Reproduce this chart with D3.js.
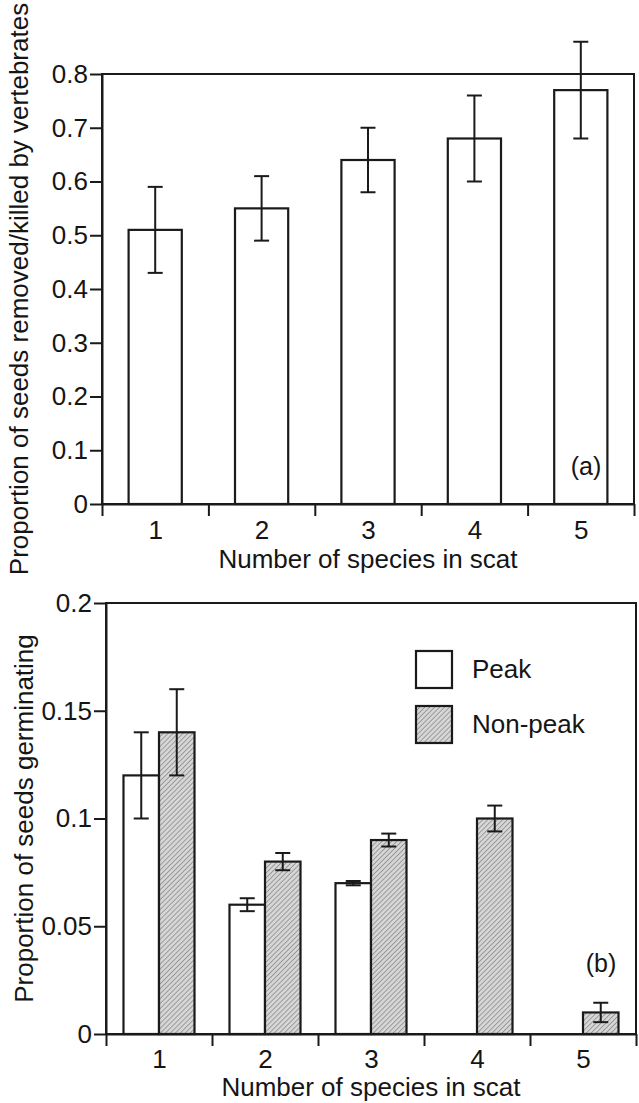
<!DOCTYPE html>
<html>
<head>
<meta charset="utf-8">
<script src="https://cdn.jsdelivr.net/npm/d3@7"></script>
<style>
  body { margin: 0; background: #fff; }
  svg text { font-family: "Liberation Sans", Arial, Helvetica, sans-serif; fill: #151515; }
</style>
</head>
<body>
<svg id="chart" width="639" height="1103"></svg>
<script>
var speciesCount = [1, 2, 3, 4, 5];

// panel (a)
var removedMean = [0.51, 0.55, 0.64, 0.68, 0.77];
var removedErr = [0.08, 0.06, 0.06, 0.08, 0.09];
var ticksA = [0, 0.1, 0.2, 0.3, 0.4, 0.5, 0.6, 0.7, 0.8];

// panel (b)
var seasons = ["Peak", "Non-peak"];
var peakMean = [0.12, 0.06, 0.07, 0, 0];
var peakErr = [0.02, 0.003, 0.001, 0, 0];
var nonPeakMean = [0.14, 0.08, 0.09, 0.10, 0.01];
var nonPeakErr = [0.02, 0.004, 0.003, 0.006, 0.0045];
var ticksB = [0, 0.05, 0.1, 0.15, 0.2];

var ink = "#1a1a1a";
var svg = d3.select("#chart");

var defs = svg.append("defs");
var pat = defs.append("pattern")
    .attr("id", "hatch")
    .attr("patternUnits", "userSpaceOnUse")
    .attr("width", 3.5).attr("height", 3.5)
    .attr("patternTransform", "rotate(45)");
pat.append("rect").attr("width", 3.5).attr("height", 3.5).attr("fill", "#d6d6d6");
pat.append("line")
    .attr("x1", 0).attr("y1", 0).attr("x2", 0).attr("y2", 3.5)
    .attr("stroke", "#7d7d7d").attr("stroke-width", 1.3);

function fmt(d) { return d === 0 ? "0" : String(d); }

function frame(g, x0, x1, y0, y1, y, ticks, xTitleY, yTitle, yTitleX, labelY) {
    // category axis: ticks at band edges, labels in the middle
    var xEdge = d3.scaleLinear().domain([0.5, 5.5]).range([x0, x1]);
    g.append("g")
        .attr("transform", "translate(0," + y0 + ")")
        .call(d3.axisBottom(xEdge).tickValues([0.5, 1.5, 2.5, 3.5, 4.5, 5.5])
            .tickFormat("").tickSize(12).tickSizeOuter(0));
    g.append("g")
        .attr("transform", "translate(0," + y0 + ")")
        .call(d3.axisBottom(xEdge).tickValues(speciesCount).tickFormat(d3.format("d"))
            .tickSize(0).tickPadding(labelY).tickSizeOuter(0))
        .call(function(s) { s.select(".domain").remove(); });

    g.append("g")
        .attr("transform", "translate(" + x0 + ",0)")
        .call(d3.axisLeft(y).tickValues(ticks).tickFormat(fmt)
            .tickSize(12).tickPadding(2).tickSizeOuter(0));

    g.append("rect")
        .attr("x", x0).attr("y", y1)
        .attr("width", x1 - x0).attr("height", y0 - y1)
        .attr("fill", "none").attr("stroke", ink).attr("stroke-width", 2);

    g.selectAll(".domain, .tick line").attr("stroke", ink).attr("stroke-width", 2);
    g.selectAll(".tick text").attr("font-size", 26);

    g.append("text")
        .attr("x", (x0 + x1) / 2).attr("y", xTitleY)
        .attr("text-anchor", "middle").attr("font-size", 26)
        .text("Number of species in scat");
    g.append("text")
        .attr("transform", "translate(" + yTitleX + "," + (y0 + y1) / 2 + ") rotate(-90)")
        .attr("text-anchor", "middle").attr("font-size", 26)
        .text(yTitle);
}

function errBars(g, xs, means, errs, y, cap) {
    var idx = d3.range(means.length).filter(function(i) { return errs[i] > 0; });
    var eb = g.append("g").attr("stroke", ink).attr("stroke-width", 2);
    eb.selectAll("line.v").data(idx).enter().append("line")
        .attr("x1", function(i) { return xs(i); }).attr("x2", function(i) { return xs(i); })
        .attr("y1", function(i) { return y(means[i] - errs[i]); })
        .attr("y2", function(i) { return y(means[i] + errs[i]); });
    [-1, 1].forEach(function(sgn) {
        eb.selectAll("line.c" + (sgn + 1)).data(idx).enter().append("line")
            .attr("x1", function(i) { return xs(i) - cap / 2; })
            .attr("x2", function(i) { return xs(i) + cap / 2; })
            .attr("y1", function(i) { return y(means[i] + sgn * errs[i]); })
            .attr("y2", function(i) { return y(means[i] + sgn * errs[i]); });
    });
}

// ---------- panel (a) ----------
var gA = svg.append("g");
var xA = d3.scaleBand().domain(speciesCount).range([102, 634]);
var yA = d3.scaleLinear().domain([0, 0.8]).range([504, 74]);
var bwA = xA.bandwidth() * 0.5;

frame(gA, 102, 634, 504, 74, yA, ticksA, 568,
    "Proportion of seeds removed/killed by vertebrates", 28, 17);

gA.selectAll("rect.bar").data(removedMean).enter().append("rect")
    .attr("class", "bar")
    .attr("x", function(d, i) { return xA(speciesCount[i]) + (xA.bandwidth() - bwA) / 2; })
    .attr("width", bwA)
    .attr("y", function(d) { return yA(d); })
    .attr("height", function(d) { return yA(0) - yA(d); })
    .attr("fill", "#fff").attr("stroke", ink).attr("stroke-width", 2.2);

errBars(gA, function(i) { return xA(speciesCount[i]) + xA.bandwidth() / 2; },
    removedMean, removedErr, yA, 15);

gA.append("text").attr("x", 586).attr("y", 475)
    .attr("text-anchor", "middle").attr("font-size", 25).text("(a)");

// ---------- panel (b) ----------
var gB = svg.append("g");
var xB = d3.scaleBand().domain(speciesCount).range([106, 636]);
var yB = d3.scaleLinear().domain([0, 0.2]).range([1034, 603]);
var groupW = xB.bandwidth() * 0.67;
var xSub = d3.scaleBand().domain(seasons).range([0, groupW]);

frame(gB, 106, 636, 1034, 603, yB, ticksB, 1096,
    "Proportion of seeds germinating", 33, 16);

var seriesB = [
    { name: "Peak", mean: peakMean, err: peakErr, fill: "#fff" },
    { name: "Non-peak", mean: nonPeakMean, err: nonPeakErr, fill: "url(#hatch)" }
];

seriesB.forEach(function(s) {
    var xs = function(i) {
        return xB(speciesCount[i]) + (xB.bandwidth() - groupW) / 2 + xSub(s.name);
    };
    gB.append("g").selectAll("rect").data(s.mean).enter().append("rect")
        .attr("x", function(d, i) { return xs(i); })
        .attr("width", xSub.bandwidth())
        .attr("y", function(d) { return yB(d); })
        .attr("height", function(d) { return yB(0) - yB(d); })
        .attr("fill", s.fill).attr("stroke", ink).attr("stroke-width", 2.2);
    errBars(gB, function(i) { return xs(i) + xSub.bandwidth() / 2; }, s.mean, s.err, yB, 15);
});

// legend
var leg = gB.append("g").attr("transform", "translate(416,651)");
leg.selectAll("rect").data(seriesB).enter().append("rect")
    .attr("x", 0).attr("y", function(d, i) { return i * 55; })
    .attr("width", 36).attr("height", 37)
    .attr("fill", function(d) { return d.fill; })
    .attr("stroke", ink).attr("stroke-width", 2.2);
leg.selectAll("text").data(seriesB).enter().append("text")
    .attr("x", 56).attr("y", function(d, i) { return i * 55 + 27; })
    .attr("font-size", 26)
    .text(function(d) { return d.name; });

gB.append("text").attr("x", 601).attr("y", 972)
    .attr("text-anchor", "middle").attr("font-size", 25).text("(b)");
</script>
</body>
</html>
